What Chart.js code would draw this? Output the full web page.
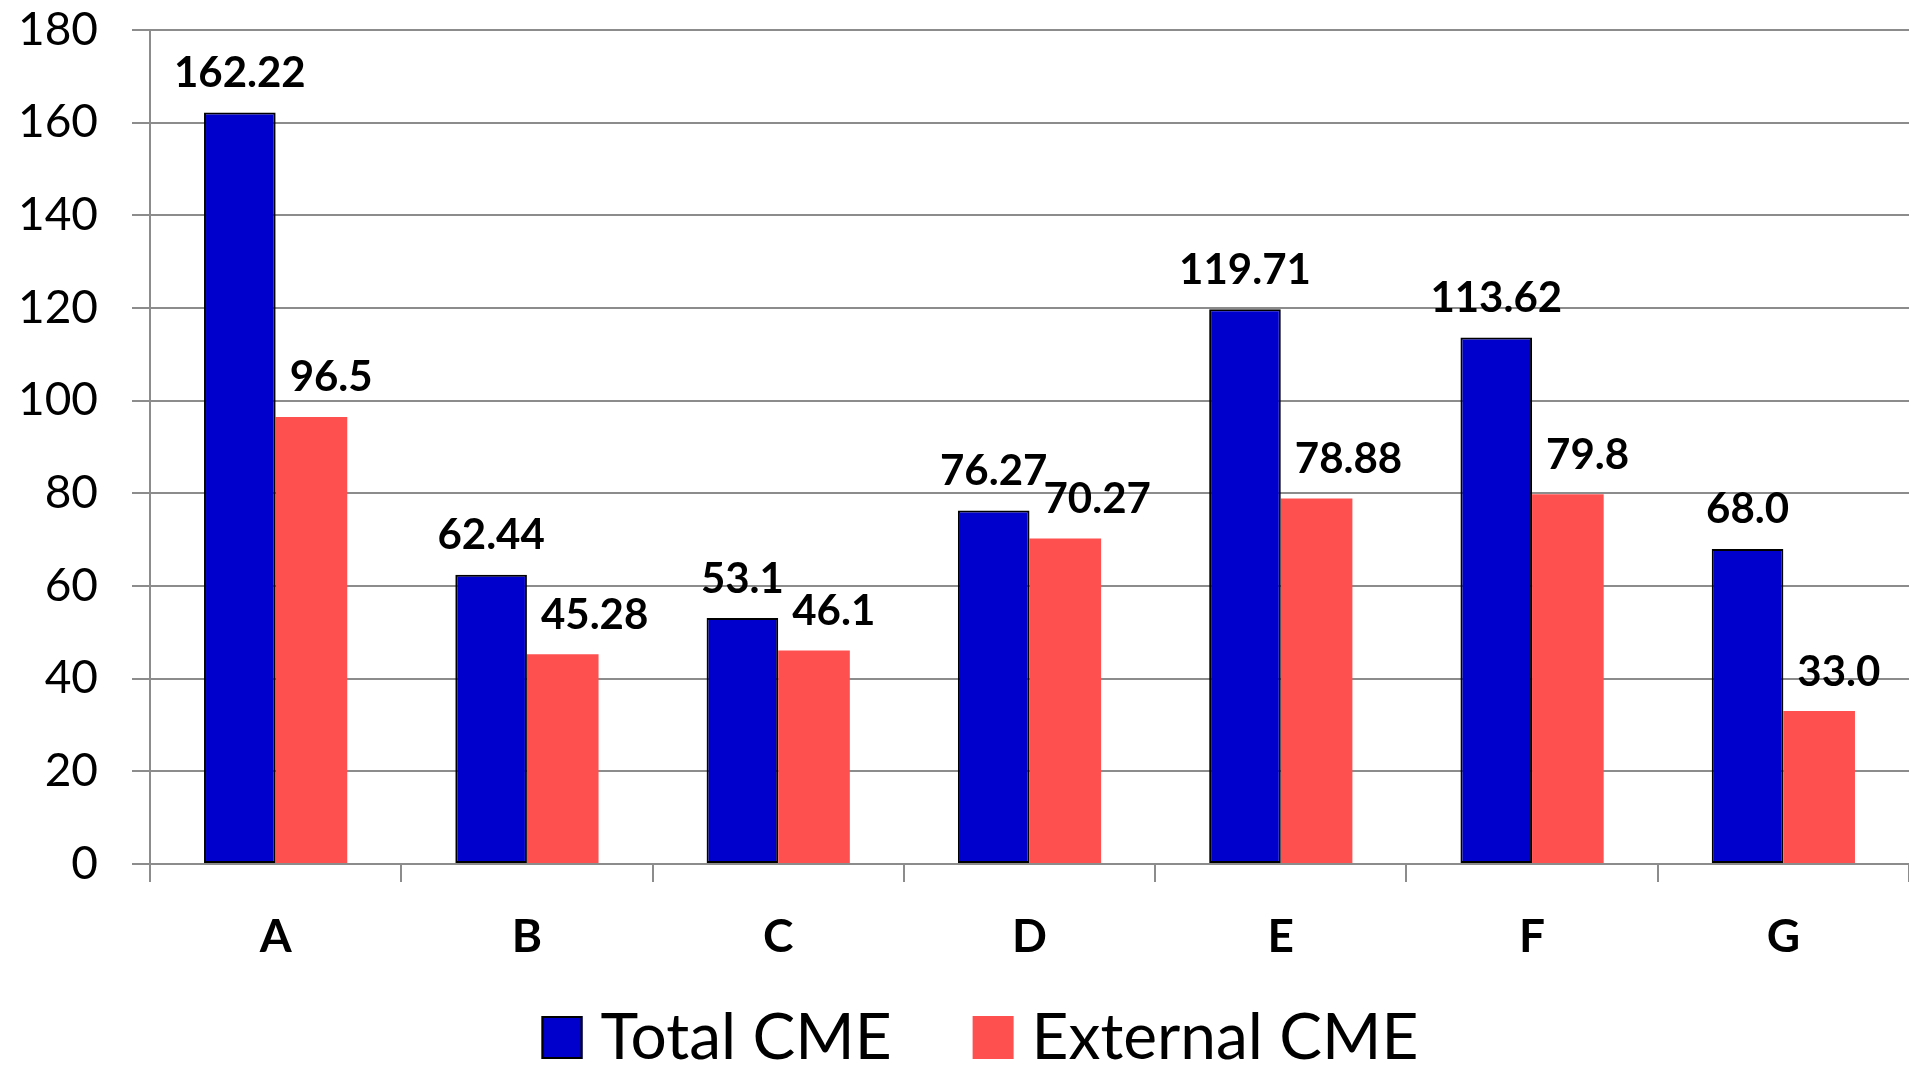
<!DOCTYPE html>
<html>
<head>
<meta charset="utf-8">
<script src="https://cdn.jsdelivr.net/npm/chart.js@4.4.1/dist/chart.umd.min.js"></script>
<style>
  html, body { margin: 0; padding: 0; background: #fff; }
  #wrap { width: 1909px; height: 1066px; position: relative; }
</style>
</head>
<body>
<div id="wrap"><canvas id="chart" width="1909" height="1066"></canvas></div>
<script>
// ── data ────────────────────────────────────────────────────────────────
var categories     = ["A", "B", "C", "D", "E", "F", "G"];
var totalCME       = [162.22, 62.44, 53.1, 76.27, 119.71, 113.62, 68.0];
var externalCME    = [96.5, 45.28, 46.1, 70.27, 78.88, 79.8, 33.0];
// value labels as printed on the chart (keeps "68.0" / "33.0")
var totalText      = ["162.22", "62.44", "53.1", "76.27", "119.71", "113.62", "68.0"];
var externalText   = ["96.5", "45.28", "46.1", "70.27", "78.88", "79.8", "33.0"];
var yMin = 0, yMax = 180, yStep = 20;

var FONT = "Lato, 'Open Sans', sans-serif";
var GRID = "#8c8c8c";

// Value labels above each bar: blue ones centred, red ones nudged right.
var valueLabels = {
    id: "valueLabels",
    afterDatasetsDraw: function(chart) {
        var ctx = chart.ctx;
        ctx.save();
        ctx.font = "bold 42px " + FONT;
        ctx.fillStyle = "#000";
        ctx.textBaseline = "middle";
        chart.data.datasets.forEach(function(ds, i) {
            var meta = chart.getDatasetMeta(i);
            meta.data.forEach(function(bar, j) {
                var y = bar.y - 39;
                if (i === 0) {
                    ctx.textAlign = "center";
                    ctx.fillText(ds.valueText[j], bar.x, y);
                } else {
                    ctx.textAlign = "left";
                    ctx.fillText(ds.valueText[j], bar.x - bar.width / 2 + 14, y);
                }
            });
        });
        ctx.restore();
    }
};

// Legend drawn by hand: Chart.js fixes the box/text gap at fontSize/2.
var bottomLegend = {
    id: "bottomLegend",
    afterDraw: function(chart) {
        var ctx = chart.ctx;
        var boxW = 41, boxH = 43, gap = 18, itemGap = 81;
        ctx.save();
        ctx.font = "64px " + FONT;
        var items = chart.data.datasets.map(function(ds) {
            return { ds: ds, w: ctx.measureText(ds.label).width };
        });
        var total = 0;
        items.forEach(function(it, k) {
            total += boxW + gap + it.w + (k ? itemGap : 0);
        });
        var x = 980 - total / 2;
        var baseline = 1059;
        items.forEach(function(it) {
            ctx.fillStyle = it.ds.backgroundColor;
            ctx.fillRect(x, baseline - boxH, boxW, boxH);
            if (it.ds.borderWidth) {
                ctx.lineWidth = 2;
                ctx.strokeStyle = it.ds.borderColor;
                ctx.strokeRect(x + 1, baseline - boxH + 1, boxW - 2, boxH - 2);
            }
            ctx.fillStyle = "#000";
            ctx.textAlign = "left";
            ctx.textBaseline = "alphabetic";
            ctx.fillText(it.ds.label, x + boxW + gap, baseline);
            x += boxW + gap + it.w + itemGap;
        });
        ctx.restore();
    }
};

new Chart(document.getElementById("chart"), {
    type: "bar",
    data: {
        labels: categories,
        datasets: [{
            label: "Total CME",
            data: totalCME,
            valueText: totalText,
            backgroundColor: "#0000CC",
            borderColor: "#000000",
            borderWidth: 2,
            borderSkipped: false
        }, {
            label: "External CME",
            data: externalCME,
            valueText: externalText,
            backgroundColor: "#FF5050",
            borderWidth: 0
        }]
    },
    options: {
        responsive: false,
        animation: false,
        devicePixelRatio: 1,
        categoryPercentage: 0.57,
        barPercentage: 1.0,
        layout: { padding: { top: 30, right: 0, bottom: 82, left: 0 } },
        plugins: {
            legend: { display: false },
            tooltip: { enabled: false }
        },
        scales: {
            x: {
                grid: {
                    offset: true,
                    drawOnChartArea: false,
                    drawTicks: true,
                    tickLength: 18,
                    color: GRID,
                    lineWidth: 2
                },
                border: { color: GRID, width: 2 },
                ticks: {
                    color: "#000",
                    padding: 28,
                    font: { family: FONT, size: 46, weight: "bold" }
                },
                afterFit: function(s) { s.height = 120; }
            },
            y: {
                min: yMin,
                max: yMax,
                grid: { color: GRID, lineWidth: 2, tickLength: 18 },
                border: { color: GRID, width: 2 },
                ticks: {
                    stepSize: yStep,
                    color: "#000",
                    padding: 34,
                    font: { family: FONT, size: 46 }
                },
                // fixed axis width; drop the label overhang so layout padding rules
                afterFit: function(s) {
                    s.width = 150;
                    s.paddingTop = 0;
                    s.paddingBottom = 0;
                }
            }
        }
    },
    plugins: [valueLabels, bottomLegend]
});
</script>
</body>
</html>
